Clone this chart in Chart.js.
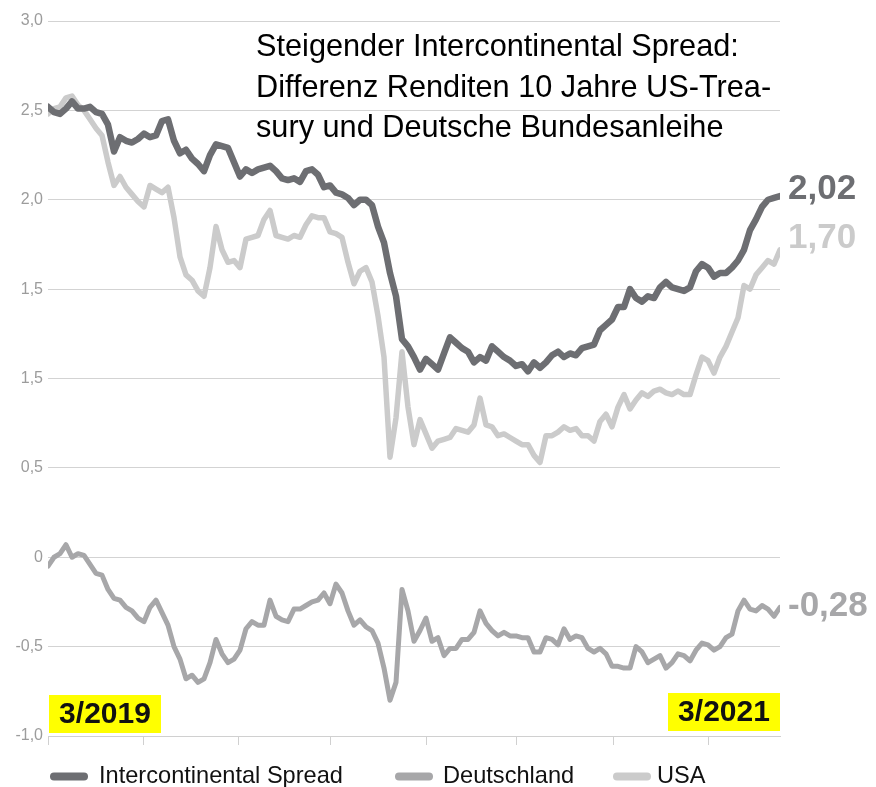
<!DOCTYPE html>
<html lang="de">
<head>
<meta charset="utf-8">
<title>Intercontinental Spread</title>
<script src="https://cdn.jsdelivr.net/npm/chart.js@4.4.1/dist/chart.umd.min.js"></script>
<style>
  html, body { margin: 0; padding: 0; background: #fff; }
  #wrap { position: relative; width: 876px; height: 787px; }
</style>
</head>
<body>
<div id="wrap"><canvas id="graph"></canvas></div>
<script>
// Renditen in %, Stützstellen alle 6 Tage von 3/2019 bis 3/2021
const spread = [
  2.52, 2.49, 2.48, 2.51, 2.55, 2.51, 2.51, 2.52, 2.49, 2.48,
  2.42, 2.27, 2.35, 2.33, 2.32, 2.34, 2.37, 2.35, 2.36, 2.44,
  2.45, 2.33, 2.26, 2.28, 2.23, 2.20, 2.16, 2.25, 2.31, 2.30,
  2.29, 2.21, 2.13, 2.17, 2.15, 2.17, 2.18, 2.19, 2.16, 2.12,
  2.11, 2.12, 2.10, 2.16, 2.17, 2.14, 2.07, 2.08, 2.04, 2.03,
  2.01, 1.97, 2.00, 2.00, 1.97, 1.85, 1.76, 1.59, 1.46, 1.22,
  1.18, 1.12, 1.05, 1.11, 1.08, 1.05, 1.14, 1.23, 1.20, 1.17,
  1.15, 1.09, 1.12, 1.10, 1.18, 1.15, 1.12, 1.10, 1.07, 1.08,
  1.04, 1.09, 1.06, 1.09, 1.13, 1.15, 1.12, 1.14, 1.13, 1.17,
  1.18, 1.19, 1.27, 1.30, 1.33, 1.40, 1.40, 1.50, 1.45, 1.43,
  1.46, 1.45, 1.51, 1.54, 1.51, 1.50, 1.49, 1.51, 1.60, 1.64,
  1.62, 1.57, 1.59, 1.59, 1.62, 1.66, 1.72, 1.83, 1.89, 1.96,
  2.00, 2.01, 2.02
]
const deutschland = [
  -0.05, 0.00, 0.02, 0.07, 0.00, 0.02, 0.01, -0.04, -0.09, -0.10,
  -0.18, -0.23, -0.24, -0.28, -0.30, -0.34, -0.36, -0.28, -0.24, -0.31,
  -0.38, -0.50, -0.57, -0.68, -0.66, -0.70, -0.68, -0.59, -0.46, -0.54,
  -0.59, -0.57, -0.52, -0.40, -0.36, -0.38, -0.38, -0.24, -0.33, -0.35,
  -0.36, -0.29, -0.29, -0.27, -0.25, -0.24, -0.20, -0.26, -0.15, -0.20,
  -0.30, -0.38, -0.35, -0.39, -0.41, -0.48, -0.62, -0.80, -0.70, -0.18,
  -0.30, -0.47, -0.41, -0.34, -0.47, -0.45, -0.55, -0.51, -0.51, -0.46,
  -0.46, -0.42, -0.30, -0.37, -0.41, -0.44, -0.42, -0.44, -0.44, -0.45,
  -0.45, -0.53, -0.53, -0.45, -0.46, -0.49, -0.40, -0.46, -0.44, -0.45,
  -0.51, -0.53, -0.51, -0.54, -0.61, -0.61, -0.62, -0.62, -0.50, -0.53,
  -0.59, -0.57, -0.55, -0.62, -0.59, -0.54, -0.55, -0.58, -0.52, -0.48,
  -0.49, -0.52, -0.50, -0.45, -0.43, -0.30, -0.24, -0.29, -0.30, -0.27,
  -0.29, -0.33, -0.28
]
const usa = [
  2.48, 2.51, 2.52, 2.57, 2.58, 2.53, 2.50, 2.45, 2.40, 2.36,
  2.21, 2.08, 2.13, 2.07, 2.03, 1.99, 1.96, 2.08, 2.06, 2.04,
  2.07, 1.90, 1.68, 1.58, 1.55, 1.49, 1.46, 1.62, 1.85, 1.72,
  1.65, 1.66, 1.62, 1.78, 1.79, 1.80, 1.89, 1.94, 1.80, 1.79,
  1.78, 1.80, 1.79, 1.86, 1.91, 1.90, 1.90, 1.82, 1.81, 1.79,
  1.65, 1.53, 1.60, 1.62, 1.54, 1.35, 1.12, 0.56, 0.78, 1.15,
  0.84, 0.63, 0.77, 0.69, 0.61, 0.65, 0.66, 0.67, 0.72, 0.71,
  0.70, 0.74, 0.89, 0.74, 0.73, 0.68, 0.69, 0.67, 0.65, 0.63,
  0.63, 0.57, 0.53, 0.68, 0.68, 0.70, 0.73, 0.71, 0.72, 0.68,
  0.68, 0.65, 0.76, 0.80, 0.73, 0.84, 0.91, 0.83, 0.88, 0.92,
  0.90, 0.93, 0.94, 0.92, 0.91, 0.93, 0.91, 0.91, 1.02, 1.12,
  1.10, 1.03, 1.12, 1.18, 1.26, 1.34, 1.52, 1.50, 1.58, 1.62,
  1.66, 1.64, 1.72
]
const serienNamen = ['Intercontinental Spread', 'Deutschland', 'USA']
const endWerte = ['2,02', '-0,28', '1,70']
const yTickWerte = [3, 2.5, 2, 1.5, 1, 0.5, 0, -0.5, -1]
const yTickLabels = ['3,0', '2,5', '2,0', '1,5', '1,5', '0,5', '0', '-0,5', '-1,0']
const xTickTage = [0, 95, 190, 282, 378, 468, 565, 660]
const datumStart = '3/2019'
const datumEnde = '3/2021'
const titelZeilen = [
  'Steigender Intercontinental Spread:',
  'Differenz Renditen 10 Jahre US-Trea-',
  'sury und Deutsche Bundesanleihe'
]

const SCHRIFT = 'Helvetica, Arial, "Liberation Sans", sans-serif'
const tage = spread.map((_, i) => i * 6)
const punkte = werte => werte.map((v, i) => ({x: tage[i], y: v}))

// Titel, Endwerte, Datumsboxen und Legende direkt auf den Canvas
const beschriftung = {
  id: 'beschriftung',
  afterDraw(chart, args, opts) {
    const {ctx, chartArea: a, scales: {y}} = chart
    ctx.save()

    ctx.fillStyle = '#000'
    ctx.font = '30.7px ' + SCHRIFT
    ctx.textAlign = 'left'
    ctx.textBaseline = 'alphabetic'
    titelZeilen.forEach((z, i) => ctx.fillText(z, 256, 56 + i * 40.5))

    ctx.font = 'bold 35px ' + SCHRIFT
    ctx.textBaseline = 'middle'
    chart.data.datasets.forEach((ds, i) => {
      const letzter = ds.data[ds.data.length - 1]
      ctx.fillStyle = ds.borderColor
      ctx.fillText(endWerte[i], a.right + 8, y.getPixelForValue(letzter.y) + opts.endOffset[i])
    })

    ctx.font = 'bold 30px ' + SCHRIFT
    ctx.textAlign = 'center'
    const box = (text, x, yTop) => {
      ctx.fillStyle = '#ffff00'
      ctx.fillRect(x, yTop, 112, 38)
      ctx.fillStyle = '#111'
      ctx.fillText(text, x + 56, yTop + 20)
    }
    box(datumStart, a.left + 1, a.bottom - 41)
    box(datumEnde, a.right - 112, a.bottom - 43)

    ctx.font = '23.6px ' + SCHRIFT
    ctx.textAlign = 'left'
    ctx.lineCap = 'round'
    ctx.lineWidth = 8
    const ly = 776.5
    chart.data.datasets.forEach((ds, i) => {
      const lx = opts.legendeX[i]
      ctx.strokeStyle = ds.borderColor
      ctx.beginPath()
      ctx.moveTo(lx + 4, ly)
      ctx.lineTo(lx + 34, ly)
      ctx.stroke()
      ctx.fillStyle = '#111'
      ctx.fillText(ds.label, opts.legendeTextX[i], ly)
    })
    ctx.restore()
  }
}

document.addEventListener('DOMContentLoaded', function() {
  let context = document.querySelector('#graph').getContext('2d')
  new Chart(context, {
    type: 'line',
    data: {
      datasets: [{
        label: serienNamen[0],
        data: punkte(spread),
        borderColor: '#6d6e72',
        borderWidth: 6.5
      }, {
        label: serienNamen[1],
        data: punkte(deutschland),
        borderColor: '#a7a7a9',
        borderWidth: 5
      }, {
        label: serienNamen[2],
        data: punkte(usa),
        borderColor: '#cbcbcb',
        borderWidth: 5.5
      }]
    },
    options: {
      responsive: true,
      maintainAspectRatio: false,
      animation: false,
      layout: {padding: {top: 21, right: 96, bottom: 42, left: 0}},
      elements: {
        point: {radius: 0},
        line: {tension: 0, borderJoinStyle: 'round', borderCapStyle: 'round'}
      },
      plugins: {
        legend: {display: false},
        tooltip: {enabled: false},
        beschriftung: {
          endOffset: [-7, -1, -11],
          legendeX: [50, 395, 613],
          legendeTextX: [99, 443, 657]
        }
      },
      scales: {
        x: {
          type: 'linear',
          min: 0,
          max: 732,
          afterBuildTicks: scale => { scale.ticks = xTickTage.map(v => ({value: v})) },
          ticks: {display: false},
          grid: {
            drawOnChartArea: false,
            drawTicks: true,
            tickLength: 9,
            color: '#d0d0d0'
          },
          border: {display: true, color: '#d0d0d0'}
        },
        y: {
          min: -1,
          max: 3,
          afterBuildTicks: scale => { scale.ticks = yTickWerte.map(v => ({value: v})) },
          afterFit: scale => { scale.width = 48 },
          ticks: {
            padding: 5,
            color: '#9c9c9c',
            font: {family: SCHRIFT, size: 16},
            callback: v => yTickLabels[yTickWerte.indexOf(v)]
          },
          grid: {color: '#d3d3d3', drawTicks: false},
          border: {display: false}
        }
      }
    },
    plugins: [beschriftung]
  })
})
</script>
</body>
</html>
